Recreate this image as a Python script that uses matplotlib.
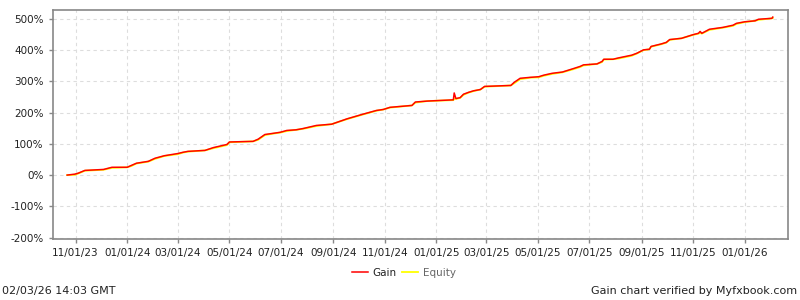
import matplotlib
matplotlib.use('Agg')
import matplotlib.pyplot as plt
import matplotlib.dates as mdates
import pandas as pd

# points (date, % gain)
dates = ['2023-10-22', '2023-10-31', '2023-11-04', '2023-11-12', '2023-12-04',
         '2023-12-14', '2024-01-01', '2024-01-06', '2024-01-12', '2024-01-26',
         '2024-02-03', '2024-02-14', '2024-03-01', '2024-03-07', '2024-03-13',
         '2024-04-02', '2024-04-12', '2024-04-28', '2024-05-01', '2024-05-29',
         '2024-06-04', '2024-06-12', '2024-06-20', '2024-06-30', '2024-07-08',
         '2024-07-19', '2024-07-27', '2024-08-12', '2024-08-30', '2024-09-17',
         '2024-10-06', '2024-10-22', '2024-10-30', '2024-11-07', '2024-12-03',
         '2024-12-07', '2024-12-21', '2025-01-21', '2025-01-22', '2025-01-24',
         '2025-01-29', '2025-02-02', '2025-02-08', '2025-02-14', '2025-02-22',
         '2025-02-27', '2025-03-30', '2025-04-03', '2025-04-10', '2025-04-22',
         '2025-05-02', '2025-05-08', '2025-05-18', '2025-05-30', '2025-06-12',
         '2025-06-20', '2025-06-24', '2025-07-10', '2025-07-16', '2025-07-18',
         '2025-07-29', '2025-08-04', '2025-08-20', '2025-08-26', '2025-09-03',
         '2025-09-10', '2025-09-12', '2025-09-24', '2025-09-30', '2025-10-04',
         '2025-10-18', '2025-11-01', '2025-11-07', '2025-11-09', '2025-11-11',
         '2025-11-20', '2025-12-06', '2025-12-18', '2025-12-22', '2026-01-01',
         '2026-01-13', '2026-01-17', '2026-02-02', '2026-02-03']

gain = [0, 3, 6, 15, 18, 25, 25, 31, 38, 44,
        54, 62, 69, 73, 76, 79, 88, 98, 106, 108,
        115, 130, 133, 137, 143, 145, 149, 159, 163, 180,
        195, 207, 210, 217, 223, 234, 237, 241, 263, 245,
        248, 259, 265, 270, 274, 284, 287, 297, 310, 313,
        315, 320, 326, 330, 341, 348, 353, 356, 364, 371,
        371, 375, 384, 390, 401, 403, 412, 420, 425, 434,
        438, 450, 454, 460, 454, 467, 473, 480, 486, 491,
        494, 499, 502, 506]

equity = [0, 1, 5, 14, 17, 23, 25, 29, 37, 43,
          52, 61, 67, 72, 75, 79, 86, 96, 105, 108,
          113, 128, 132, 136, 141, 145, 148, 157, 163, 179,
          194, 206, 210, 216, 223, 232, 237, 240, 245, 244,
          247, 257, 264, 269, 274, 283, 287, 294, 307, 312,
          313, 318, 324, 329, 339, 346, 351, 356, 362, 370,
          371, 373, 382, 389, 400, 403, 411, 419, 424, 433,
          438, 449, 453, 455, 453, 465, 472, 478, 484, 490,
          494, 497, 502, 503]

yticks = [-200, -100, 0, 100, 200, 300, 400, 500]
xticks = ['2023-11-01', '2024-01-01', '2024-03-01', '2024-05-01', '2024-07-01',
          '2024-09-01', '2024-11-01', '2025-01-01', '2025-03-01', '2025-05-01',
          '2025-07-01', '2025-09-01', '2025-11-01', '2026-01-01']

x = pd.to_datetime(dates)

plt.rcParams['font.family'] = 'DejaVu Sans'
fig = plt.figure(figsize=(8, 3), dpi=100)
ax = fig.add_axes([0.066, 0.203, 0.919, 0.764])

ax.plot(x, equity, color='#ffff00', lw=1.3, label='Equity', zorder=2)
ax.plot(x, gain, color='#ff0000', lw=1.1, label='Gain', zorder=3)

ax.set_ylim(-205, 529)
ax.set_xlim(pd.Timestamp('2023-10-05'), pd.Timestamp('2026-02-21'))
ax.set_yticks(yticks)
ax.set_yticklabels([f'{v}%' for v in yticks])
ax.set_xticks(pd.to_datetime(xticks))
ax.xaxis.set_major_formatter(mdates.DateFormatter('%m/%d/%y'))

ax.grid(True, color='#dddddd', linestyle=(0, (3, 3)), lw=0.8)
for s in ax.spines.values():
    s.set_color('#888888')
    s.set_linewidth(1.2)
ax.tick_params(colors='#888888', labelcolor='#222222', labelsize=7.5,
               length=3, width=1)

# legend below the plot, Gain first
h, l = ax.get_legend_handles_labels()
leg = fig.legend([h[1], h[0]], [l[1], l[0]], loc='center', bbox_to_anchor=(0.505, 0.09),
                 ncol=2, frameon=False, fontsize=7.5,
                 handlelength=1.5, handletextpad=0.5, columnspacing=0.5)
leg.get_texts()[0].set_color('#222222')
leg.get_texts()[1].set_color('#666666')

fig.text(0.003, 0.03, '02/03/26 14:03 GMT', fontsize=8, color='#222222', va='center')
fig.text(0.997, 0.03, 'Gain chart verified by Myfxbook.com', fontsize=8,
         color='#222222', va='center', ha='right')

fig.savefig('out.png', dpi=100)
